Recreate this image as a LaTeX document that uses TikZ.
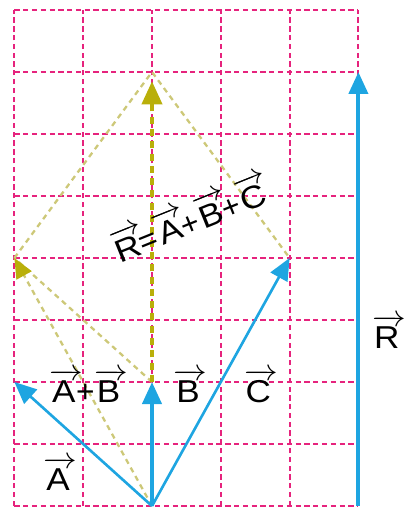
\documentclass[tikz,border=0pt]{standalone}
\usepackage{amsmath}
\usepackage{fontspec}
\setmainfont{Liberation Sans}
\usetikzlibrary{arrows.meta}
\definecolor{cgrid}{RGB}{230,35,125}
\definecolor{cvec}{RGB}{30,165,225}
\definecolor{csum}{RGB}{185,175,10}
\definecolor{cpar}{RGB}{205,200,120}
\tikzset{
  gridline/.style={draw=cgrid,line width=1.1pt,dash pattern=on 3pt off 2pt},
  vec/.style={draw=cvec,line width=1.5pt,-{Triangle[length=0.44cm,width=0.38cm]}},
  thickvec/.style={vec,line width=2.3pt},
  sumvec/.style={draw=csum,line width=2.2pt,dash pattern=on 4pt off 3pt,
    -{Triangle[length=0.46cm,width=0.4cm]}},
  parline/.style={draw=cpar,line width=1.3pt,dash pattern=on 3pt off 2.5pt},
  vlabel/.style={font=\fontsize{18}{21}\selectfont,inner sep=1pt}
}
\newcommand{\vlab}[1]{\scalebox{1.11}[1]{$\overrightarrow{\text{#1}\,}\mkern-4mu$}}

\begin{document}
\begin{tikzpicture}[x=1.376cm,y=1.24cm]
  \useasboundingbox (-2.209,-0.145) rectangle (3.677,8.161);
  \draw[gridline,step=1] (-2,0) grid (3,8);
  % points of the construction
  \coordinate (O) at (0,0);
  \coordinate (Atip) at (-2,2);
  \coordinate (Btip) at (0,2);
  \coordinate (Ctip) at (2,4);
  \coordinate (AB) at (-2,4);
  \coordinate (top) at (0,7);
  \coordinate (Rtip) at (0,6.85);
  \coordinate (R0) at (3,0);
  \coordinate (R1) at (3,7);
  % parallelograms
  \draw[parline] (Btip) -- (AB);
  \draw[parline] (AB) -- (top) -- (Ctip);
  \draw[parline,-{Triangle[length=0.4cm,width=0.34cm,color=csum]}] (O) -- (AB);
  \draw[sumvec] (Btip) -- (Rtip);
  % vectors
  \draw[vec] (O) -- (Atip);
  \draw[thickvec] (O) -- (Btip);
  \draw[vec] (O) -- (Ctip);
  \draw[thickvec] (R0) -- (R1);
  % labels
  \node[vlabel] (lA) at (-1.38,0.52) {\vlab{A}};
  \node[vlabel] (lAB) at (-0.97,1.94) {\vlab{A}+\vlab{B}};
  \node[vlabel] (lB) at (0.51,1.94) {\vlab{B}};
  \node[vlabel] (lC) at (1.53,1.94) {\vlab{C}};
  \node[vlabel] (lR) at (3.40,2.81) {\vlab{R}};
  \node[vlabel,rotate=22] (lsum) at (0.52,4.64) {\vlab{R}=\vlab{A}+\vlab{B}+\vlab{C}};
\end{tikzpicture}
\end{document}
